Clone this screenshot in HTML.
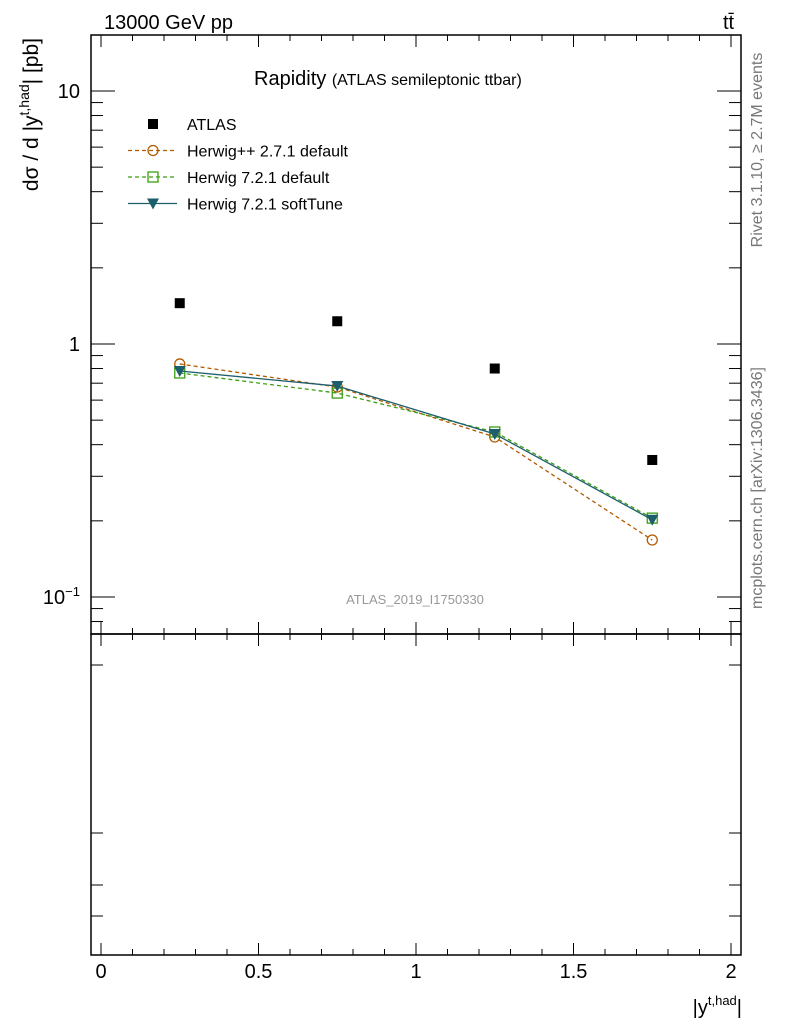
<!DOCTYPE html>
<html><head><meta charset="utf-8"><style>
body{margin:0;background:#fff}
svg text{font-family:"Liberation Sans",sans-serif}
</style></head><body>
<svg id="c" width="786" height="1024" xmlns="http://www.w3.org/2000/svg">
<rect x="0" y="0" width="786" height="1024" fill="#fff"/>
<g id="axes"></g>
<g id="marks"></g>
<text x="104" y="29" font-size="20">13000 GeV pp</text>
<text x="723" y="29" font-size="20">tt̄</text>
<text x="254" y="85" font-size="20">Rapidity <tspan font-size="16">(ATLAS semileptonic ttbar)</tspan></text>
<text x="415" y="604" font-size="13" fill="#999" text-anchor="middle">ATLAS_2019_I1750330</text>
<text transform="translate(38,38) rotate(-90)" text-anchor="end" font-size="21">dσ / d |y<tspan dy="-9" font-size="14">t,had</tspan><tspan dy="9">| [pb]</tspan></text>
<text x="742" y="1014" font-size="20" text-anchor="end">|y<tspan dy="-9" font-size="13">t,had</tspan><tspan dy="9">|</tspan></text>
<text transform="translate(762,150) rotate(-90)" text-anchor="middle" font-size="16" fill="#777">Rivet 3.1.10, ≥ 2.7M events</text>
<text transform="translate(762,488) rotate(-90)" text-anchor="middle" font-size="16" fill="#777">mcplots.cern.ch [arXiv:1306.3436]</text>
<g id="legend"></g>
</svg>
<script>
const xCenters=[0.25,0.75,1.25,1.75];
const atlasVals=[1.45,1.23,0.80,0.348];
const hppVals=[0.834,0.676,0.429,0.168];
const h721Vals=[0.768,0.64,0.449,0.205];
const softVals=[0.782,0.682,0.441,0.202];
const xTicks=[0,0.5,1,1.5,2];
const xTickLabels=["0","0.5","1","1.5","2"];

const NS="http://www.w3.org/2000/svg";
const L=91,R=741,T=35,M=634,B=955;
const xs=v=>101+v*315;
const ys=v=>344-Math.log10(v)*253;
function el(tag,attrs,parent){const e=document.createElementNS(NS,tag);for(const k in attrs)e.setAttribute(k,attrs[k]);parent.appendChild(e);return e;}
const ax=document.getElementById('axes'),mk=document.getElementById('marks'),lg=document.getElementById('legend');
let f=el('rect',{x:L,y:T,width:R-L,height:M-T,fill:'none',stroke:'#000','stroke-width':1.5},ax);


f=el('rect',{x:L,y:M,width:R-L,height:B-M,fill:'none',stroke:'#000','stroke-width':1.5},ax);


for(let i=0;i<=20;i++){const v=i/10,x=xs(v),maj=i%5==0,len=maj?12:6;
 for(const [y,d] of [[T,1],[M,-1],[M,1],[B,-1]]) el('line',{x1:x,x2:x,y1:y,y2:y+d*len,stroke:'#000'},ax);}
xTicks.forEach((v,i)=>{const t=el('text',{x:xs(v),y:978,'font-size':20,'text-anchor':'middle'},ax);t.textContent=xTickLabels[i];

});
for(let d=-2;d<=1;d++)for(let m=1;m<=9;m++){const v=m*Math.pow(10,d),y=ys(v);if(y<T||y>M)continue;const len=m==1?24:12;
 el('line',{x1:L,x2:L+len,y1:y,y2:y,stroke:'#000'},ax);el('line',{x1:R,x2:R-len,y1:y,y2:y,stroke:'#000'},ax);}
[[10,"10"],[1,"1"]].forEach(([v,s])=>{const t=el('text',{x:80,y:ys(v)+7,'font-size':20,'text-anchor':'end'},ax);t.textContent=s;

});
let t=el('text',{x:80,y:ys(0.1)+7,'font-size':20,'text-anchor':'end'},ax);t.innerHTML='10<tspan dy="-8" font-size="13">−1</tspan>';


[665,833,885,916].forEach(y=>{el('line',{x1:L,x2:L+12,y1:y,y2:y,stroke:'#000'},ax);el('line',{x1:R,x2:R-12,y1:y,y2:y,stroke:'#000'},ax);});
function line(vals,color,dash,name){const p=el('polyline',{points:vals.map((v,i)=>xs(xCenters[i])+','+ys(v)).join(' '),fill:'none',stroke:color,'stroke-width':1.3,'stroke-dasharray':dash||''},mk);

}
function marker(type,x,y,color,parent){let e;
 if(type=='sq')e=el('rect',{x:x-5,y:y-5,width:10,height:10,fill:'#000'},parent);
 else if(type=='circ')e=el('circle',{cx:x,cy:y,r:5,fill:'none',stroke:color,'stroke-width':1.3},parent);
 else if(type=='osq')e=el('rect',{x:x-5,y:y-5,width:10,height:10,fill:'none',stroke:color,'stroke-width':1.3},parent);
 else e=el('polygon',{points:`${x-6},${y-5} ${x+6},${y-5} ${x},${y+6}`,fill:color},parent);
 return e;}
const series=[[hppVals,'#b35a00','4,3','circ','herwigpp-2-7-1'],[h721Vals,'#3b9e12','4,3','osq','herwig-7-2-1-default'],[softVals,'#1d5e6c','','tri','herwig-7-2-1-softtune']];
series.forEach(([vals,c,d,m,n])=>{line(vals,c,d,n+'-line');vals.forEach((v,i)=>{const e=marker(m,xs(xCenters[i]),ys(v),c,mk);

});});
atlasVals.forEach((v,i)=>{const e=marker('sq',xs(xCenters[i]),ys(v),'#000',mk);

});
const items=[['sq','#000','','ATLAS'],['circ','#b35a00','4,3','Herwig++ 2.7.1 default'],['osq','#3b9e12','4,3','Herwig 7.2.1 default'],['tri','#1d5e6c','','Herwig 7.2.1 softTune']];
items.forEach(([m,c,d,s],i)=>{const y=124+i*26.5;const g=el('g',{},lg);


if(i>0)el('line',{x1:128,x2:177,y1:y,y2:y,stroke:c,'stroke-width':1.3,'stroke-dasharray':d},g);
marker(m,153,y,c,g);const tx=el('text',{x:187,y:y+6,'font-size':16},g);tx.textContent=s;});
</script>
</body></html>
